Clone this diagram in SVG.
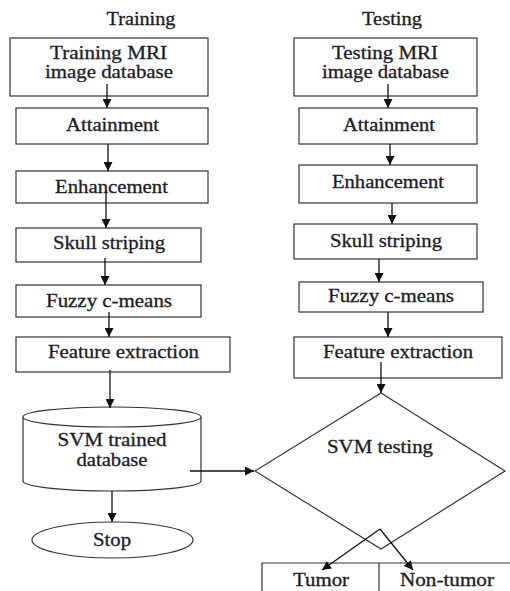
<svg xmlns="http://www.w3.org/2000/svg" width="510" height="591" viewBox="0 0 510 591">
<defs>
<marker id="ah" viewBox="0 0 10 10" refX="10" refY="5" markerWidth="10" markerHeight="9" markerUnits="userSpaceOnUse" orient="auto">
<path d="M0,0 L10,5 L0,10 Z" fill="#111"/>
</marker>
</defs>
<style>
.box{fill:#fff;stroke:#333;stroke-width:1.2}
.t{font-family:'Liberation Serif','DejaVu Serif',serif;font-size:18px;fill:#1c1c2a;stroke:#1c1c2a;stroke-width:0.3;text-anchor:middle}
.c{stroke:#111;stroke-width:1.3;fill:none;marker-end:url(#ah)}
</style>
<rect width="510" height="591" fill="#fff"/>
<g font-family="Liberation Serif, DejaVu Serif, serif">
<text class="t" x="141" y="25" textLength="69" lengthAdjust="spacingAndGlyphs">Training</text>
<text class="t" x="392" y="25" textLength="60" lengthAdjust="spacingAndGlyphs">Testing</text>

<g id="tr1"><rect class="box" x="10" y="38" width="198" height="58"/>
<text class="t" x="108.5" y="59" textLength="117" lengthAdjust="spacingAndGlyphs">Training MRI</text>
<text class="t" x="109" y="78" textLength="128" lengthAdjust="spacingAndGlyphs">image database</text></g>
<g id="tr2"><rect class="box" x="16" y="108" width="192" height="36"/>
<text class="t" x="112.5" y="131" textLength="93" lengthAdjust="spacingAndGlyphs">Attainment</text></g>
<g id="tr3"><rect class="box" x="16" y="171" width="192" height="32"/>
<text class="t" x="111.5" y="193" textLength="113" lengthAdjust="spacingAndGlyphs">Enhancement</text></g>
<g id="tr4"><rect class="box" x="16" y="228" width="185" height="34"/>
<text class="t" x="109" y="249" textLength="112" lengthAdjust="spacingAndGlyphs">Skull striping</text></g>
<g id="tr5"><rect class="box" x="16" y="285" width="185" height="32"/>
<text class="t" x="109" y="307" textLength="126" lengthAdjust="spacingAndGlyphs">Fuzzy c-means</text></g>
<g id="tr6"><rect class="box" x="16" y="337" width="214" height="35"/>
<text class="t" x="123.5" y="358" textLength="151" lengthAdjust="spacingAndGlyphs">Feature extraction</text></g>
<g id="tr7"><path class="box" d="M23,417 L23,481 A89,10 0 0 0 201,481 L201,417 A89,10 0 0 0 23,417 A89,10 0 0 0 201,417"/>
<text class="t" x="112" y="446" textLength="109" lengthAdjust="spacingAndGlyphs">SVM trained</text>
<text class="t" x="112" y="466" textLength="71" lengthAdjust="spacingAndGlyphs">database</text></g>
<g id="tr8"><ellipse class="box" cx="112.5" cy="540" rx="80.5" ry="18"/>
<text class="t" x="112" y="546" textLength="38" lengthAdjust="spacingAndGlyphs">Stop</text></g>

<g id="te1"><rect class="box" x="294" y="38" width="183" height="58"/>
<text class="t" x="385" y="59" textLength="106" lengthAdjust="spacingAndGlyphs">Testing MRI</text>
<text class="t" x="385.5" y="78" textLength="127" lengthAdjust="spacingAndGlyphs">image database</text></g>
<g id="te2"><rect class="box" x="299" y="108" width="178" height="36"/>
<text class="t" x="389" y="131" textLength="92" lengthAdjust="spacingAndGlyphs">Attainment</text></g>
<g id="te3"><rect class="box" x="299" y="165" width="178" height="38"/>
<text class="t" x="388" y="188" textLength="112" lengthAdjust="spacingAndGlyphs">Enhancement</text></g>
<g id="te4"><rect class="box" x="294" y="224" width="183" height="35"/>
<text class="t" x="386" y="247" textLength="112" lengthAdjust="spacingAndGlyphs">Skull striping</text></g>
<g id="te5"><rect class="box" x="299" y="282" width="184" height="30"/>
<text class="t" x="391" y="302" textLength="126" lengthAdjust="spacingAndGlyphs">Fuzzy c-means</text></g>
<g id="te6"><rect class="box" x="294" y="337" width="208" height="41"/>
<text class="t" x="398" y="358" textLength="150" lengthAdjust="spacingAndGlyphs">Feature extraction</text></g>
<g id="te7"><path class="box" d="M381,393 L505,471 L381,549 L255,471 Z"/>
<text class="t" x="380" y="453" textLength="106" lengthAdjust="spacingAndGlyphs">SVM testing</text></g>
<g id="te8"><path class="box" d="M262,600 L262,563 L512,563"/>
<text class="t" x="321" y="586" textLength="56" lengthAdjust="spacingAndGlyphs">Tumor</text></g>
<g id="te9"><path class="box" d="M379,563 L379,600"/>
<text class="t" x="447" y="586" textLength="94" lengthAdjust="spacingAndGlyphs">Non-tumor</text></g>
</g>

<g id="connectors">
<path class="c" d="M107,84 L107,108"/>
<path class="c" d="M108,144 L108,171"/>
<path class="c" d="M106,190 L106,228"/>
<path class="c" d="M105,258 L105,285"/>
<path class="c" d="M109,312 L109,337"/>
<path class="c" d="M110,370 L110,408"/>
<path class="c" d="M112,491 L112,522"/>
<path class="c" d="M190,471 L254,471"/>
<path class="c" d="M388,84 L388,108"/>
<path class="c" d="M390,144 L390,165"/>
<path class="c" d="M392,203 L392,224"/>
<path class="c" d="M379,259 L379,282"/>
<path class="c" d="M388,312 L388,337"/>
<path class="c" d="M381,362 L381,393"/>
<path class="c" d="M380,529 L322,570"/>
<path class="c" d="M380,529 L413,570"/>
</g>
</svg>
